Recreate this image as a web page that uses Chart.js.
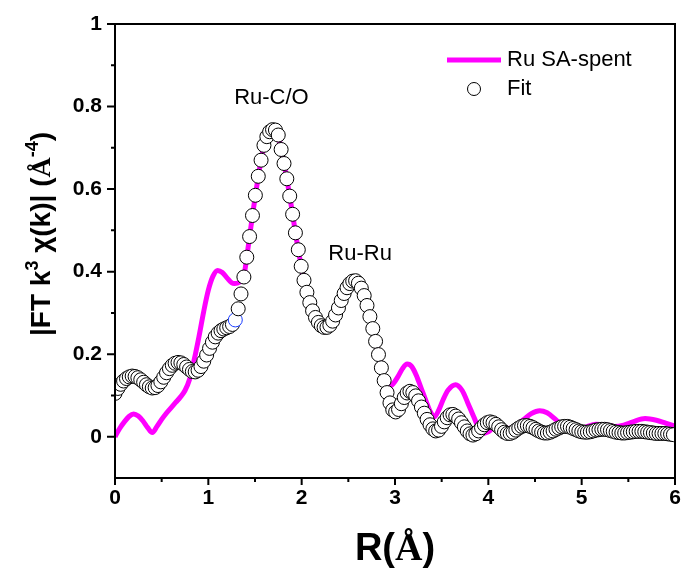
<!DOCTYPE html>
<html>
<head>
<meta charset="utf-8">
<script src="https://cdn.jsdelivr.net/npm/chart.js@4.4.0/dist/chart.umd.min.js"></script>
<style>
html,body{margin:0;padding:0;background:#fff;}
#wrap{width:683px;height:570px;}
</style>
</head>
<body>
<div id="wrap"><canvas id="c" width="683" height="570"></canvas></div>
<script>
// ---------- data ----------
const fitR = [0.000,0.031,0.061,0.092,0.123,0.153,0.184,0.215,0.245,0.276,
0.307,0.337,0.368,0.399,0.430,0.460,0.491,0.522,0.552,0.583,
0.614,0.644,0.675,0.706,0.737,0.767,0.798,0.829,0.859,0.890,
0.921,0.951,0.982,1.013,1.044,1.074,1.105,1.136,1.166,1.197,
1.228,1.258,1.289,1.320,1.350,1.381,1.412,1.442,1.473,1.504,
1.535,1.565,1.596,1.627,1.657,1.688,1.719,1.749,1.780,1.811,
1.841,1.872,1.903,1.933,1.964,1.995,2.025,2.056,2.087,2.117,
2.148,2.179,2.210,2.240,2.271,2.302,2.332,2.363,2.394,2.424,
2.455,2.486,2.516,2.547,2.578,2.608,2.639,2.670,2.700,2.731,
2.762,2.792,2.823,2.854,2.884,2.915,2.946,2.976,3.007,3.038,
3.068,3.099,3.130,3.160,3.191,3.222,3.252,3.283,3.314,3.344,
3.375,3.406,3.436,3.467,3.498,3.528,3.559,3.590,3.620,3.651,
3.682,3.712,3.743,3.774,3.804,3.835,3.866,3.896,3.927,3.958,
3.989,4.019,4.050,4.081,4.111,4.142,4.173,4.203,4.234,4.265,
4.295,4.326,4.357,4.387,4.418,4.449,4.479,4.510,4.541,4.571,
4.602,4.633,4.663,4.694,4.725,4.756,4.786,4.817,4.848,4.878,
4.909,4.940,4.970,5.001,5.032,5.062,5.093,5.124,5.154,5.185,
5.216,5.246,5.277,5.308,5.338,5.369,5.400,5.430,5.461,5.492,
5.523,5.553,5.584,5.615,5.645,5.676,5.707,5.737,5.768,5.799,
5.829,5.860,5.891,5.921,5.952,5.983];

const fitVal = [0.105,0.117,0.127,0.135,0.141,0.145,0.147,0.146,0.143,0.138,
0.132,0.126,0.121,0.118,0.119,0.124,0.133,0.144,0.155,0.165,
0.173,0.178,0.180,0.179,0.175,0.169,0.163,0.158,0.157,0.161,
0.170,0.183,0.198,0.214,0.229,0.242,0.251,0.257,0.261,0.264,
0.267,0.272,0.283,0.310,0.346,0.387,0.435,0.485,0.536,0.585,
0.631,0.670,0.706,0.727,0.739,0.744,0.743,0.731,0.696,0.662,
0.625,0.583,0.539,0.494,0.453,0.413,0.379,0.350,0.325,0.305,
0.289,0.277,0.269,0.265,0.265,0.270,0.280,0.295,0.312,0.330,
0.347,0.361,0.371,0.377,0.378,0.372,0.360,0.342,0.318,0.291,
0.262,0.231,0.199,0.167,0.136,0.107,0.082,0.065,0.060,0.066,
0.080,0.095,0.106,0.110,0.107,0.099,0.087,0.072,0.057,0.042,
0.029,0.019,0.014,0.016,0.025,0.036,0.046,0.053,0.054,0.050,
0.043,0.034,0.024,0.014,0.007,0.004,0.007,0.014,0.022,0.029,
0.034,0.036,0.034,0.030,0.024,0.017,0.011,0.008,0.008,0.011,
0.016,0.021,0.025,0.027,0.027,0.025,0.022,0.018,0.014,0.011,
0.009,0.009,0.011,0.014,0.018,0.021,0.024,0.025,0.025,0.023,
0.020,0.017,0.014,0.012,0.011,0.011,0.012,0.014,0.016,0.017,
0.018,0.018,0.017,0.015,0.013,0.011,0.010,0.009,0.009,0.010,
0.011,0.012,0.013,0.013,0.013,0.012,0.011,0.010,0.009,0.008,
0.008,0.008,0.008,0.007,0.006,0.005];

const lineR = [0,0.05,0.1,0.15,0.2,0.25,0.3,0.35,0.4,0.45,
0.5,0.55,0.6,0.65,0.7,0.75,0.8,0.85,0.9,0.95,
1.0,1.05,1.1,1.15,1.2,1.25,1.28,1.33,1.381,1.412,
1.442,1.473,1.504,1.535,1.565,1.596,1.627,1.657,1.688,1.719,
1.749,1.780,1.811,1.841,1.872,1.903,1.933,1.964,1.995,2.025,
2.056,2.087,2.117,2.148,2.179,2.210,2.240,2.271,2.302,2.332,
2.363,2.394,2.424,2.455,2.486,2.516,2.547,2.578,2.608,2.639,
2.670,2.700,2.731,2.762,2.792,2.823,2.854,2.884,2.93,2.98,
3.03,3.08,3.13,3.18,3.23,3.28,3.33,3.38,3.42,3.47,
3.52,3.57,3.65,3.72,3.78,3.85,3.93,4.0,4.08,4.15,
4.22,4.3,4.38,4.46,4.55,4.63,4.72,4.8,4.88,4.96,
5.05,5.15,5.25,5.35,5.45,5.55,5.68,5.8,5.9,6.0];

const lineVal = [0.000,0.020,0.036,0.049,0.055,0.050,0.038,0.022,0.010,0.025,
0.042,0.057,0.070,0.083,0.096,0.112,0.140,0.188,0.243,0.303,
0.355,0.389,0.403,0.398,0.385,0.373,0.371,0.374,0.390,0.435,
0.485,0.536,0.585,0.631,0.670,0.706,0.727,0.739,0.744,0.743,
0.731,0.696,0.662,0.625,0.583,0.539,0.494,0.453,0.413,0.379,
0.350,0.325,0.305,0.289,0.277,0.269,0.265,0.265,0.270,0.280,
0.295,0.312,0.330,0.347,0.361,0.371,0.377,0.378,0.372,0.360,
0.342,0.318,0.291,0.262,0.231,0.199,0.167,0.138,0.120,0.128,
0.145,0.165,0.176,0.170,0.148,0.118,0.088,0.060,0.048,0.065,
0.092,0.113,0.126,0.112,0.082,0.045,0.008,0.012,0.025,0.024,
0.020,0.028,0.042,0.056,0.063,0.058,0.042,0.026,0.018,0.018,
0.024,0.030,0.029,0.025,0.028,0.036,0.044,0.040,0.033,0.026];

const xTicks = [0,1,2,3,4,5,6];
const xMinor = [0.5,1.5,2.5,3.5,4.5,5.5];
const yTicks = [0,0.2,0.4,0.6,0.8,1];
const yMinor = [0.1,0.3,0.5,0.7,0.9];
const seriesNames = ['Ru SA-spent','Fit'];
const peakLabels = [
  {text:'Ru-C/O', r:1.676, v:0.82},
  {text:'Ru-Ru', r:2.626, v:0.442}
];

// ---------- drawing helpers ----------
const SANS = 'Arial, "Liberation Sans", Helvetica, sans-serif';
const SERIF = '"Liberation Serif", "Times New Roman", serif';

function drawSegments(ctx, segs, x, y, align){
  let total = 0;
  segs.forEach(s=>{ctx.font = s.font; s.w = ctx.measureText(s.t).width; total += s.w;});
  let cx = align==='center' ? x - total/2 : x;
  segs.forEach(s=>{
    ctx.font = s.font;
    ctx.fillText(s.t, cx, y + (s.dy||0));
    cx += s.w;
  });
}

const decorPlugin = {
  id:'decor',
  afterDraw(chart){
    const {ctx, chartArea:a, scales:{x,y}} = chart;
    ctx.save();
    // frame
    ctx.strokeStyle = '#000';
    ctx.lineWidth = 2;
    ctx.strokeRect(a.left, a.top, a.right-a.left, a.bottom-a.top);
    // ticks
    ctx.beginPath();
    xTicks.forEach(v=>{const p=x.getPixelForValue(v); ctx.moveTo(p,a.bottom); ctx.lineTo(p,a.bottom+7);});
    xMinor.forEach(v=>{const p=x.getPixelForValue(v); ctx.moveTo(p,a.bottom); ctx.lineTo(p,a.bottom+4);});
    yTicks.forEach(v=>{const p=y.getPixelForValue(v); ctx.moveTo(a.left,p); ctx.lineTo(a.left-8,p);});
    yMinor.forEach(v=>{const p=y.getPixelForValue(v); ctx.moveTo(a.left,p); ctx.lineTo(a.left-4,p);});
    ctx.stroke();

    ctx.fillStyle = '#000';
    ctx.textBaseline = 'alphabetic';
    ctx.textAlign = 'left';
    // x title
    drawSegments(ctx, [
      {t:'R(', font:'bold 38px '+SANS},
      {t:'Å', font:'bold 38px '+SERIF},
      {t:')', font:'bold 38px '+SANS}
    ], (a.left+a.right)/2, 560, 'center');

    // y title (rotated)
    ctx.save();
    ctx.translate(50, 234);
    ctx.rotate(-Math.PI/2);
    drawSegments(ctx, [
      {t:'|FT k', font:'bold 28px '+SANS},
      {t:'3', font:'bold 18px '+SANS, dy:-12},
      {t:' χ(k)| (', font:'bold 28px '+SANS},
      {t:'Å', font:'bold 28px '+SERIF},
      {t:'-4', font:'bold 18px '+SANS, dy:-12},
      {t:')', font:'bold 28px '+SANS}
    ], 0, 0, 'center');
    ctx.restore();

    // peak labels
    ctx.font = '22px '+SANS;
    ctx.textAlign = 'center';
    ctx.textBaseline = 'middle';
    peakLabels.forEach(p=>{
      ctx.fillText(p.text, x.getPixelForValue(p.r), y.getPixelForValue(p.v));
    });

    // legend
    ctx.textAlign = 'left';
    ctx.strokeStyle = '#ff00ff';
    ctx.lineWidth = 5;
    ctx.beginPath(); ctx.moveTo(447,60); ctx.lineTo(501,60); ctx.stroke();
    ctx.fillText(seriesNames[0], 507, 60);
    ctx.beginPath(); ctx.arc(474,89,6.5,0,Math.PI*2);
    ctx.fillStyle='#fff'; ctx.fill();
    ctx.strokeStyle='#000'; ctx.lineWidth=1; ctx.stroke();
    ctx.fillStyle='#000';
    ctx.fillText(seriesNames[1], 507, 89);
    ctx.restore();
  }
};

const fitPoints = fitR.map((r,i)=>({x:r, y:fitVal[i]}));
const linePoints = lineR.map((r,i)=>({x:r, y:lineVal[i]}));

new Chart(document.getElementById('c'), {
  type:'scatter',
  data:{
    datasets:[
      {
        label: seriesNames[1],
        data: fitPoints,
        showLine:false,
        pointRadius:7,
        pointStyle:'circle',
        pointBackgroundColor:'#ffffff',
        pointBorderColor: fitVal.map((v,i)=> i===42 ? '#1a3cff' : '#000000'),
        pointBorderWidth:1
      },
      {
        label: seriesNames[0],
        data: linePoints,
        showLine:true,
        borderColor:'#ff00ff',
        borderWidth:5,
        pointRadius:0,
        cubicInterpolationMode:'monotone',
        fill:false
      }
    ]
  },
  options:{
    responsive:false,
    animation:false,
    devicePixelRatio:1,
    layout:{padding:{top:24,right:4,left:0,bottom:0}},
    plugins:{legend:{display:false}, tooltip:{enabled:false}},
    scales:{
      x:{
        type:'linear', position:'bottom', min:0, max:6,
        afterBuildTicks(s){ s.ticks = xTicks.map(v=>({value:v})); },
        afterFit(s){ s.height = 92; s.paddingLeft = 0; s.paddingRight = 0; },
        grid:{display:false, drawTicks:false},
        border:{display:false},
        ticks:{color:'#000', padding:8, font:{family:SANS, size:21, weight:'bold'},
               callback:(v)=>String(v), maxRotation:0, autoSkip:false}
      },
      y:{
        type:'linear', position:'left', min:-0.1, max:1,
        afterBuildTicks(s){ s.ticks = yTicks.map(v=>({value:v})); },
        afterFit(s){ s.width = 115; s.paddingTop = 0; s.paddingBottom = 0; },
        grid:{display:false, drawTicks:false},
        border:{display:false},
        ticks:{color:'#000', padding:13, font:{family:SANS, size:21, weight:'bold'},
               callback:(v)=> (v===0?'0':(v===1?'1':v.toFixed(1))), autoSkip:false}
      }
    }
  },
  plugins:[decorPlugin]
});
</script>
</body>
</html>
